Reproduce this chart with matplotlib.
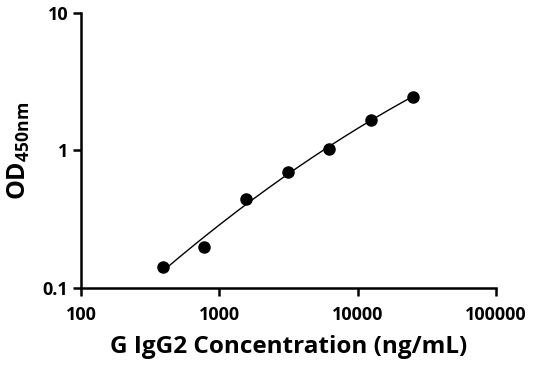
import matplotlib.pyplot as plt
import numpy as np

plt.rcParams['font.family'] = ['Open Sans', 'DejaVu Sans']
plt.rcParams['font.weight'] = 'bold'
plt.rcParams['axes.labelweight'] = 'bold'
plt.rcParams['mathtext.default'] = 'regular'

# Standard curve data
conc = [390.6, 781.3, 1562.5, 3125, 6250, 12500, 25000]
od = [0.142, 0.199, 0.444, 0.698, 1.03, 1.67, 2.45]

# Smooth fit in log-log space
lx = np.log10(conc)
ly = np.log10(od)
coef = np.polyfit(lx, ly, 2)
xs = np.linspace(lx.min(), lx.max(), 200)
ys = np.polyval(coef, xs)

fig = plt.figure(figsize=(5.36, 3.71), dpi=100)
ax = fig.add_axes([0.151, 0.224, 0.774, 0.741])

ax.plot(10 ** xs, 10 ** ys, color='black', linewidth=1.0)
ax.plot(conc, od, 'o', color='black', markersize=8)

ax.set_xscale('log')
ax.set_yscale('log')
ax.set_xlim(100, 100000)
ax.set_ylim(0.1, 10)
ax.set_xticks([100, 1000, 10000, 100000])
ax.set_xticklabels(['100', '1000', '10000', '100000'])
ax.set_yticks([0.1, 1, 10])
ax.set_yticklabels(['0.1', '1', '10'])
ax.minorticks_off()

for side in ['top', 'right']:
    ax.spines[side].set_visible(False)
for side in ['left', 'bottom']:
    ax.spines[side].set_linewidth(1.8)
ax.tick_params(width=1.8, length=6, labelsize=13, pad=3)
ax.tick_params(axis='x', pad=7)

ax.set_xlabel('G IgG2 Concentration (ng/mL)', fontsize=17.5, fontweight='bold', labelpad=8)
ax.set_ylabel('OD$_{450nm}$', fontsize=18, fontweight='bold', labelpad=8)

fig.savefig('out.png', dpi=100)
